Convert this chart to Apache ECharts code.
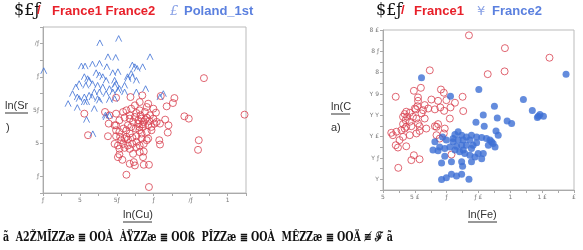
<!DOCTYPE html>
<html><head><meta charset="utf-8">
<script src="https://cdn.jsdelivr.net/npm/echarts@6/dist/echarts.min.js"></script>
<style>html,body{margin:0;padding:0;background:#fff}#c{width:583px;height:250px}</style>
</head><body><div id="c"></div>
<script>
// ---- tick labels (as printed) ----
const leftXLabels = ['ƒ','5','5ƒ','ƒ','/ƒ','1'];          // values 0..5
const leftYLabels = ['ƒ','5','5ƒ','ƒ','/ƒ'];              // values 1..5
const rightXLabels = ['5','5 £','ƒ','ƒ £','1','1 £','£']; // values 0..6
const rightYLabels = ['Y','Y ƒ','Y £','Y Y','Y 9','8','8 ƒ','8 £']; // values 1..8

// ---- left panel: ln(Cu) vs ln(Sr) ----
const polandLeft = [
[0.02,4.18],[1.54,5.02],[2.05,5.15],[1.76,4.60],[1.97,4.58],[2.90,4.60],[1.04,4.32],[1.14,4.32],
[1.34,4.38],[1.53,4.40],[1.73,4.30],[2.03,4.15],[2.42,4.35],[2.49,4.30],[2.55,4.25],[2.70,4.30],
[2.39,4.10],[2.29,4.00],[1.12,4.00],[1.21,3.94],[1.25,3.89],[1.44,4.12],[1.53,4.05],[1.62,4.00],
[1.71,3.89],[1.94,3.89],[1.98,3.79],[1.89,4.12],[0.89,3.69],[0.98,3.79],[1.16,3.74],[1.34,3.79],
[1.48,3.74],[1.62,3.69],[1.80,3.64],[1.94,3.74],[2.07,3.64],[2.21,3.74],[2.30,3.94],[2.42,4.00],
[2.53,3.89],[0.80,3.49],[0.93,3.39],[1.12,3.39],[1.25,3.44],[1.39,3.54],[1.53,3.54],[1.71,3.49],
[1.89,3.54],[2.03,3.59],[2.21,3.54],[0.98,3.34],[1.18,3.24],[1.33,3.39],[1.53,3.29],[1.80,3.31],
[1.94,3.34],[2.53,3.54],[2.78,3.64],[3.26,3.49],[3.17,3.39],[0.68,3.19],[0.93,3.07],[1.12,3.24],
[1.39,3.04],[1.48,3.34],[1.18,2.71],[1.71,2.79],[1.80,2.84],[1.35,2.28],[1.69,2.84]
];
const franceLeft = [
[4.36,3.96],[5.46,2.86],[4.22,2.09],[4.20,1.80],[2.87,0.68],[2.26,1.05],[1.22,2.24],[1.12,2.89],
[1.98,3.37],[2.37,3.39],[2.69,3.44],[2.62,3.24],[2.85,3.19],[3.19,3.42],[3.52,3.21],[3.56,3.36],
[3.35,3.11],[3.06,2.92],[2.99,3.04],[2.81,3.09],[2.49,3.14],[2.62,2.99],[2.39,3.04],[2.26,2.99],
[2.17,2.94],[1.98,2.89],[1.80,2.84],[1.68,2.94],[1.78,2.59],[1.94,2.54],[2.07,2.69],[2.21,2.77],
[2.35,2.84],[2.49,2.79],[2.58,2.69],[2.67,2.74],[2.81,2.77],[2.90,2.84],[2.99,2.74],[3.08,2.64],
[3.17,2.59],[3.31,2.71],[3.40,2.54],[3.38,2.32],[3.15,2.09],[3.17,1.96],[3.83,2.81],[3.95,2.74],
[1.98,2.39],[2.07,2.34],[2.18,2.44],[2.30,2.54],[2.39,2.49],[2.51,2.44],[2.61,2.39],[2.71,2.49],
[2.85,2.54],[2.94,2.49],[2.81,2.34],[2.67,2.29],[2.53,2.21],[2.42,2.17],[2.30,2.11],[2.21,2.14],
[2.09,2.19],[1.98,2.21],[1.76,2.21],[1.94,1.98],[2.03,1.93],[2.17,1.98],[2.30,1.93],[2.42,1.98],
[2.53,2.04],[2.62,1.93],[2.73,1.98],[2.85,2.14],[2.53,1.88],[2.35,1.83],[2.21,1.86],[2.07,1.83],
[2.62,1.73],[2.73,1.75],[2.44,1.68],[2.07,1.66],[2.03,1.58],[2.15,1.50],[2.35,1.38],[2.46,1.43],
[2.49,1.33],[2.71,1.58],[2.73,1.35],[2.87,1.35],[2.58,2.59],[2.44,2.64],[2.73,2.64],[2.94,2.39],
[3.02,2.59],[2.26,2.39],[2.35,2.29],[1.98,2.54],[2.64,2.84],[2.76,2.94],[2.53,2.91],[2.35,2.74],
[2.12,2.09],[2.26,2.19],[2.67,2.14],[2.81,2.09],[2.70,2.57],[2.61,2.49],[2.77,2.71],[2.88,2.67]
];

// ---- right panel: ln(Fe) vs ln(Ca) ----
const france1Right = [
[2.70,7.75],[3.83,7.15],[5.23,6.70],[3.82,6.06],[3.29,5.93],[1.47,6.11],[0.97,5.15],[1.19,5.29],
[0.40,4.87],[1.10,4.84],[1.82,5.21],[1.91,5.06],[2.50,4.87],[2.26,4.59],[2.52,4.20],[2.12,4.37],
[1.99,4.71],[1.73,4.68],[1.52,4.74],[1.31,4.48],[1.42,4.32],[1.63,4.28],[1.80,4.37],[1.92,4.21],
[2.10,3.85],[1.10,4.68],[1.08,4.43],[1.03,4.28],[1.21,4.09],[1.31,3.85],[0.73,4.17],[0.84,4.12],
[0.68,4.06],[0.63,3.93],[0.76,3.93],[0.94,3.93],[1.05,3.85],[0.71,3.77],[0.84,3.70],[0.63,3.59],
[0.73,3.46],[0.89,3.49],[1.10,3.62],[1.15,3.49],[1.36,3.38],[1.63,3.49],[1.73,3.59],[1.94,3.38],
[1.91,3.15],[1.68,3.07],[1.78,2.91],[0.68,3.38],[0.58,3.31],[0.42,3.23],[0.26,3.18],[0.31,3.07],
[0.84,3.07],[1.05,3.15],[1.15,3.27],[0.63,2.99],[0.52,2.84],[0.73,2.55],[0.40,2.60],[0.47,2.49],
[0.97,2.13],[1.15,1.94],[0.89,1.90],[0.48,1.54],[2.15,2.16],[1.68,3.46],[1.00,4.32],[1.26,4.24]
];
const france2Right = [
[5.75,5.92],[1.21,5.76],[3.01,5.21],[2.12,4.90],[4.41,4.74],[3.50,4.43],[4.69,4.23],[3.15,4.01],
[3.59,3.88],[4.93,4.04],[4.88,3.96],[5.04,3.96],[4.85,3.90],[3.90,3.74],[4.04,3.62],[2.92,3.68],
[3.18,3.49],[3.55,3.27],[3.62,3.07],[2.26,3.10],[2.36,3.23],[2.47,3.07],[2.62,2.99],[2.78,3.07],
[2.94,2.99],[3.10,2.96],[3.25,2.91],[3.36,2.84],[3.46,2.68],[3.52,2.52],[2.73,2.84],[2.52,2.84],
[2.36,2.84],[2.20,2.76],[1.99,2.84],[1.87,2.99],[1.63,2.76],[1.78,2.52],[1.94,2.44],[2.10,2.52],
[2.26,2.37],[2.41,2.29],[2.57,2.21],[2.73,2.13],[2.89,2.05],[2.99,2.21],[3.10,1.97],[3.15,2.21],
[2.78,2.44],[2.83,2.60],[2.62,2.60],[2.47,2.60],[2.31,2.55],[1.57,2.37],[1.73,2.34],[1.94,2.08],
[2.47,1.82],[2.78,1.82],[2.15,1.82],[1.84,1.77],[2.50,1.61],[1.84,0.99],[1.99,1.08],[2.15,1.24],
[2.31,1.16],[2.47,1.24],[2.70,1.00],[2.94,2.71],[3.31,2.60],[3.41,2.76],[2.52,2.37],[2.20,2.91]
];

const RED = '#d8404f', BLUE = '#3d6fd4';
const axisGray = '#aaaaaa';

function labelFmt(arr, offset){
  return function(v){
    const r = Math.round(v*2)/2;
    if (Math.abs(r - Math.round(r)) > 1e-6) return '';
    const i = Math.round(r) - offset;
    return (i>=0 && i<arr.length) ? arr[i] : '';
  };
}
function axisCommon(){
  return {
    axisLine:{show:true,onZero:false,lineStyle:{color:axisGray,width:1}},
    axisTick:{show:true,length:3,interval:0,lineStyle:{color:axisGray}},
    splitLine:{show:false},
  };
}
const chart = echarts.init(document.getElementById('c'), null, {renderer:'canvas'});
const caretPath = 'path://M0,10L5,0L10,10';
const option = {
  animation:false,
  grid:[
    {left:43, top:27, width:203, height:166, show:true, borderColor:'#bbbbbb', borderWidth:1, backgroundColor:'transparent'},
    {left:383, top:30, width:191, height:160, show:true, borderColor:'#bbbbbb', borderWidth:1, backgroundColor:'transparent'}
  ],
  xAxis:[
    Object.assign(axisCommon(),{gridIndex:0,type:'value',min:0,max:5.5,interval:0.5,
      axisLabel:{interval:0,fontSize:6,color:'#777',margin:4,fontFamily:'DejaVu Sans',formatter:labelFmt(leftXLabels,0)}}),
    Object.assign(axisCommon(),{gridIndex:1,type:'value',min:0,max:6,interval:0.5,
      axisLabel:{interval:0,fontSize:6,color:'#777',margin:4,fontFamily:'DejaVu Sans',formatter:labelFmt(rightXLabels,0)}})
  ],
  yAxis:[
    Object.assign(axisCommon(),{gridIndex:0,type:'value',min:0.5,max:5.5,interval:0.5,
      axisLabel:{interval:0,fontSize:6,color:'#777',margin:4,fontFamily:'DejaVu Sans',formatter:labelFmt(leftYLabels,1)}}),
    Object.assign(axisCommon(),{gridIndex:1,type:'value',min:0.5,max:8,interval:0.5,
      axisLabel:{interval:0,fontSize:6,color:'#777',margin:4,fontFamily:'DejaVu Sans',formatter:labelFmt(rightYLabels,1)}})
  ],
  series:[
    {name:'France', type:'scatter', xAxisIndex:0, yAxisIndex:0, data:franceLeft, symbol:'circle', symbolSize:7,
      itemStyle:{color:'rgba(0,0,0,0)', borderColor:RED, borderWidth:1}},
    {name:'Poland_1st', type:'scatter', xAxisIndex:0, yAxisIndex:0, data:polandLeft, symbol:caretPath, symbolSize:[6,6],
      itemStyle:{color:'rgba(0,0,0,0)', borderColor:BLUE, borderWidth:1}},
    {name:'France1', type:'scatter', xAxisIndex:1, yAxisIndex:1, data:france1Right, symbol:'circle', symbolSize:7,
      itemStyle:{color:'rgba(0,0,0,0)', borderColor:RED, borderWidth:1}},
    {name:'France2', type:'scatter', xAxisIndex:1, yAxisIndex:1, data:france2Right, symbol:'circle', symbolSize:7,
      itemStyle:{color:BLUE}}
  ],
  graphic:[
    // left legend
    {type:'text', left:14, top:3, style:{text:'$£ƒ', font:'16px "DejaVu Serif"', fill:'#111'}},
    {type:'text', left:37, top:4, style:{text:'/', font:'bold 13px "Liberation Sans"', fill:'#e8202a'}},
    {type:'text', left:52, top:5, style:{text:'France1 France2', font:'bold 13px "Liberation Sans"', fill:'#e8202a'}},
    {type:'text', left:170, top:5, style:{text:'£', font:'italic 13px "DejaVu Serif"', fill:'#8aa2e6'}},
    {type:'text', left:184, top:5, style:{text:'Poland_1st', font:'bold 13px "Liberation Sans"', fill:'#5b80df'}},
    // right legend
    {type:'text', left:376, top:3, style:{text:'$£ƒ', font:'16px "DejaVu Serif"', fill:'#111'}},
    {type:'text', left:401, top:4, style:{text:'/', font:'bold 13px "Liberation Sans"', fill:'#e8202a'}},
    {type:'text', left:414, top:5, style:{text:'France1', font:'bold 13px "Liberation Sans"', fill:'#e8202a'}},
    {type:'text', left:477, top:5, style:{text:'¥', font:'13px "DejaVu Sans"', fill:'#8aa2e6'}},
    {type:'text', left:492, top:5, style:{text:'France2', font:'bold 13px "Liberation Sans"', fill:'#5b80df'}},
    // axis titles (underlined)
    {type:'text', left:123, top:209, style:{text:'ln(Cu)', font:'11px "Liberation Sans"', fill:'#333'}},
    {type:'line', shape:{x1:123,y1:222,x2:152,y2:222}, style:{stroke:'#333', lineWidth:1}},
    {type:'text', left:468, top:209, style:{text:'ln(Fe)', font:'11px "Liberation Sans"', fill:'#333'}},
    {type:'line', shape:{x1:468,y1:222,x2:497,y2:222}, style:{stroke:'#333', lineWidth:1}},
    {type:'text', left:5, top:100, style:{text:'ln(Sr', font:'11px "Liberation Sans"', fill:'#333'}},
    {type:'line', shape:{x1:5,y1:113,x2:28,y2:113}, style:{stroke:'#333', lineWidth:1}},
    {type:'text', left:6, top:122, style:{text:')', font:'11px "Liberation Sans"', fill:'#333'}},
    {type:'text', left:331, top:101, style:{text:'ln(C', font:'11px "Liberation Sans"', fill:'#333'}},
    {type:'line', shape:{x1:331,y1:114,x2:350,y2:114}, style:{stroke:'#333', lineWidth:1}},
    {type:'text', left:331, top:122, style:{text:'a)', font:'11px "Liberation Sans"', fill:'#333'}},
    // caption
    {type:'text', x:3, y:231, scaleX:0.73, scaleY:1, style:{text:'ã  A2ŽMĨZZæ ≣ OOÀ  ÀŸZZæ ≣ OOß  PÎZZæ ≣ OOÀ  MÊZZæ ≣ OOÄ ≢ ℱ ã', font:'bold 13px "DejaVu Serif"', fill:'#111'}}
  ]
};
chart.setOption(option);
</script></body></html>
